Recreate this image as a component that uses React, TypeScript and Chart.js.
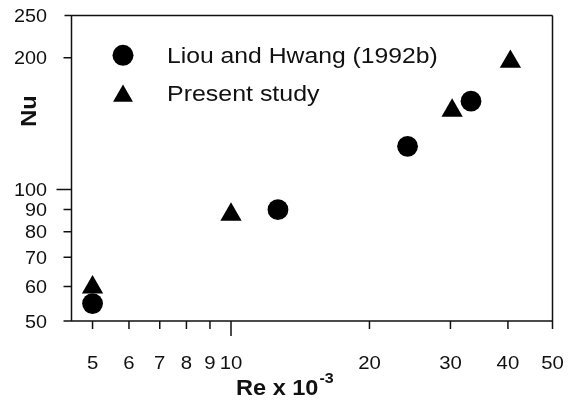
import React, { useEffect, useRef } from "react";
import { Chart, registerables } from "chart.js";

Chart.register(...registerables);

// ---- data ----
const seriesLabels = ["Liou and Hwang (1992b)", "Present study"];
const liouRe = [5, 12.65, 24.2, 33.25];
const liouNu = [54.8, 89.9, 125.5, 159.2];
const presentRe = [5, 10, 30.25, 40.5];
const presentNu = [59.7, 87.6, 151.5, 196];
const xTickValues = [5, 6, 7, 8, 9, 10, 20, 30, 40, 50];
const yTickValues = [50, 60, 70, 80, 90, 100, 200, 250];
const xMajorTicks = [10];
const yMajorTicks = [100];
const xTitle = "Re x 10";
const xTitleExp = "-3";
const yTitle = "Nu";

const FONT = "'Liberation Sans', Arial, Helvetica, sans-serif";
const INK = "#111";

function txt(ctx: any, s: string, x: number, y: number, font: string, align: string, sx: number) {
  ctx.save();
  ctx.font = font;
  ctx.textBaseline = "alphabetic";
  ctx.textAlign = align;
  ctx.translate(x, y);
  ctx.scale(sx, 1);
  ctx.fillText(s, 0, 0);
  const w = ctx.measureText(s).width * sx;
  ctx.restore();
  return w;
}

const decorPlugin = {
  id: "decor",
  afterDraw(chart: any) {
    const { ctx, chartArea } = chart;
    const { left: L, right: R, top: T, bottom: B } = chartArea;
    const xs = chart.scales.x;
    const ys = chart.scales.y;
    ctx.save();
    ctx.strokeStyle = INK;
    ctx.lineWidth = 1.5;
    ctx.lineCap = "butt";
    ctx.beginPath();
    ctx.moveTo(L, T);
    ctx.lineTo(L, B);
    ctx.moveTo(L - 7, T);
    ctx.lineTo(R, T);
    ctx.moveTo(R, T);
    ctx.lineTo(R, B + 8);
    ctx.moveTo(L - 8, B);
    ctx.lineTo(R, B);
    for (const v of yTickValues) {
      if (v === 50 || v === 250) continue;
      const y = ys.getPixelForValue(v);
      const len = yMajorTicks.includes(v) ? 15 : 8;
      ctx.moveTo(L - len, y);
      ctx.lineTo(L, y);
    }
    for (const v of xTickValues) {
      if (v === 50) continue;
      const x = xs.getPixelForValue(v);
      const len = xMajorTicks.includes(v) ? 15 : 8;
      ctx.moveTo(x, B);
      ctx.lineTo(x, B + len);
    }
    ctx.stroke();

    ctx.fillStyle = INK;
    // tick labels
    const tickFont = `18px ${FONT}`;
    for (const v of yTickValues) {
      const y = ys.getPixelForValue(v);
      txt(ctx, String(v), 47, y + 6.5, tickFont, "right", 1.1);
    }
    for (const v of xTickValues) {
      const x = xs.getPixelForValue(v);
      txt(ctx, String(v), x, 368.5, tickFont, "center", 1.13);
    }

    // legend
    ctx.fillStyle = "#000";
    const lx = 123;
    ctx.beginPath();
    ctx.arc(lx, 55.3, 10.5, 0, Math.PI * 2);
    ctx.fill();
    const r = 11.5;
    const cy = 96;
    ctx.beginPath();
    ctx.moveTo(lx, cy - r);
    ctx.lineTo(lx + r * Math.cos(Math.PI / 6), cy + r / 2);
    ctx.lineTo(lx - r * Math.cos(Math.PI / 6), cy + r / 2);
    ctx.closePath();
    ctx.fill();
    ctx.fillStyle = INK;
    const legFont = `21.7px ${FONT}`;
    txt(ctx, seriesLabels[0], 167, 63.3, legFont, "left", 1.14);
    txt(ctx, seriesLabels[1], 167, 101, legFont, "left", 1.15);

    // y title
    ctx.save();
    ctx.translate(36, 111);
    ctx.rotate(-Math.PI / 2);
    txt(ctx, yTitle, 0, 0, `bold 22px ${FONT}`, "center", 1.07);
    ctx.restore();

    // x title
    const w = txt(ctx, xTitle, 236, 395, `bold 22px ${FONT}`, "left", 1.07);
    txt(ctx, xTitleExp, 236 + w + 1, 383, `bold 15px ${FONT}`, "left", 1.07);
    ctx.restore();
  },
};

export default function App() {
  const ref = useRef<HTMLCanvasElement | null>(null);
  useEffect(() => {
    if (!ref.current) return;
    const chart = new Chart(ref.current, {
      type: "scatter",
      data: {
        datasets: [
          {
            label: seriesLabels[0],
            data: liouRe.map((x, i) => ({ x, y: liouNu[i] })),
            pointStyle: "circle",
            pointRadius: 10.4,
            pointBackgroundColor: "#000",
            pointBorderWidth: 0,
            borderColor: "#000",
          },
          {
            label: seriesLabels[1],
            data: presentRe.map((x, i) => ({ x, y: presentNu[i] })),
            pointStyle: "triangle",
            pointRadius: 12.3,
            pointBackgroundColor: "#000",
            pointBorderWidth: 0,
            borderColor: "#000",
          },
        ],
      },
      options: {
        animation: false,
        responsive: false,
        devicePixelRatio: 1,
        layout: { padding: { top: 15.5, right: 18.5, left: 0, bottom: 0 } },
        plugins: {
          legend: { display: false },
          tooltip: { enabled: false },
        },
        scales: {
          x: {
            type: "logarithmic",
            min: 4.5,
            max: 50,
            grid: { display: false },
            border: { display: false },
            afterBuildTicks: (s: any) => {
              s.ticks = xTickValues.map((v) => ({ value: v }));
            },
            afterFit: (s: any) => {
              s.height = 82;
              s.paddingLeft = 0;
              s.paddingRight = 0;
              s.paddingTop = 0;
              s.paddingBottom = 0;
            },
            ticks: { display: false },
          },
          y: {
            type: "logarithmic",
            min: 50,
            max: 250,
            grid: { display: false },
            border: { display: false },
            afterBuildTicks: (s: any) => {
              s.ticks = yTickValues.map((v) => ({ value: v }));
            },
            afterFit: (s: any) => {
              s.width = 71.5;
              s.paddingLeft = 0;
              s.paddingRight = 0;
              s.paddingTop = 0;
              s.paddingBottom = 0;
            },
            ticks: { display: false },
          },
        },
      },
      plugins: [decorPlugin],
    });
    return () => chart.destroy();
  }, []);
  return (
    <div style={{ position: "absolute", left: 0, top: 0, width: 571, height: 403, background: "#fff" }}>
      <canvas ref={ref} width={571} height={403} style={{ display: "block" }} />
    </div>
  );
}
